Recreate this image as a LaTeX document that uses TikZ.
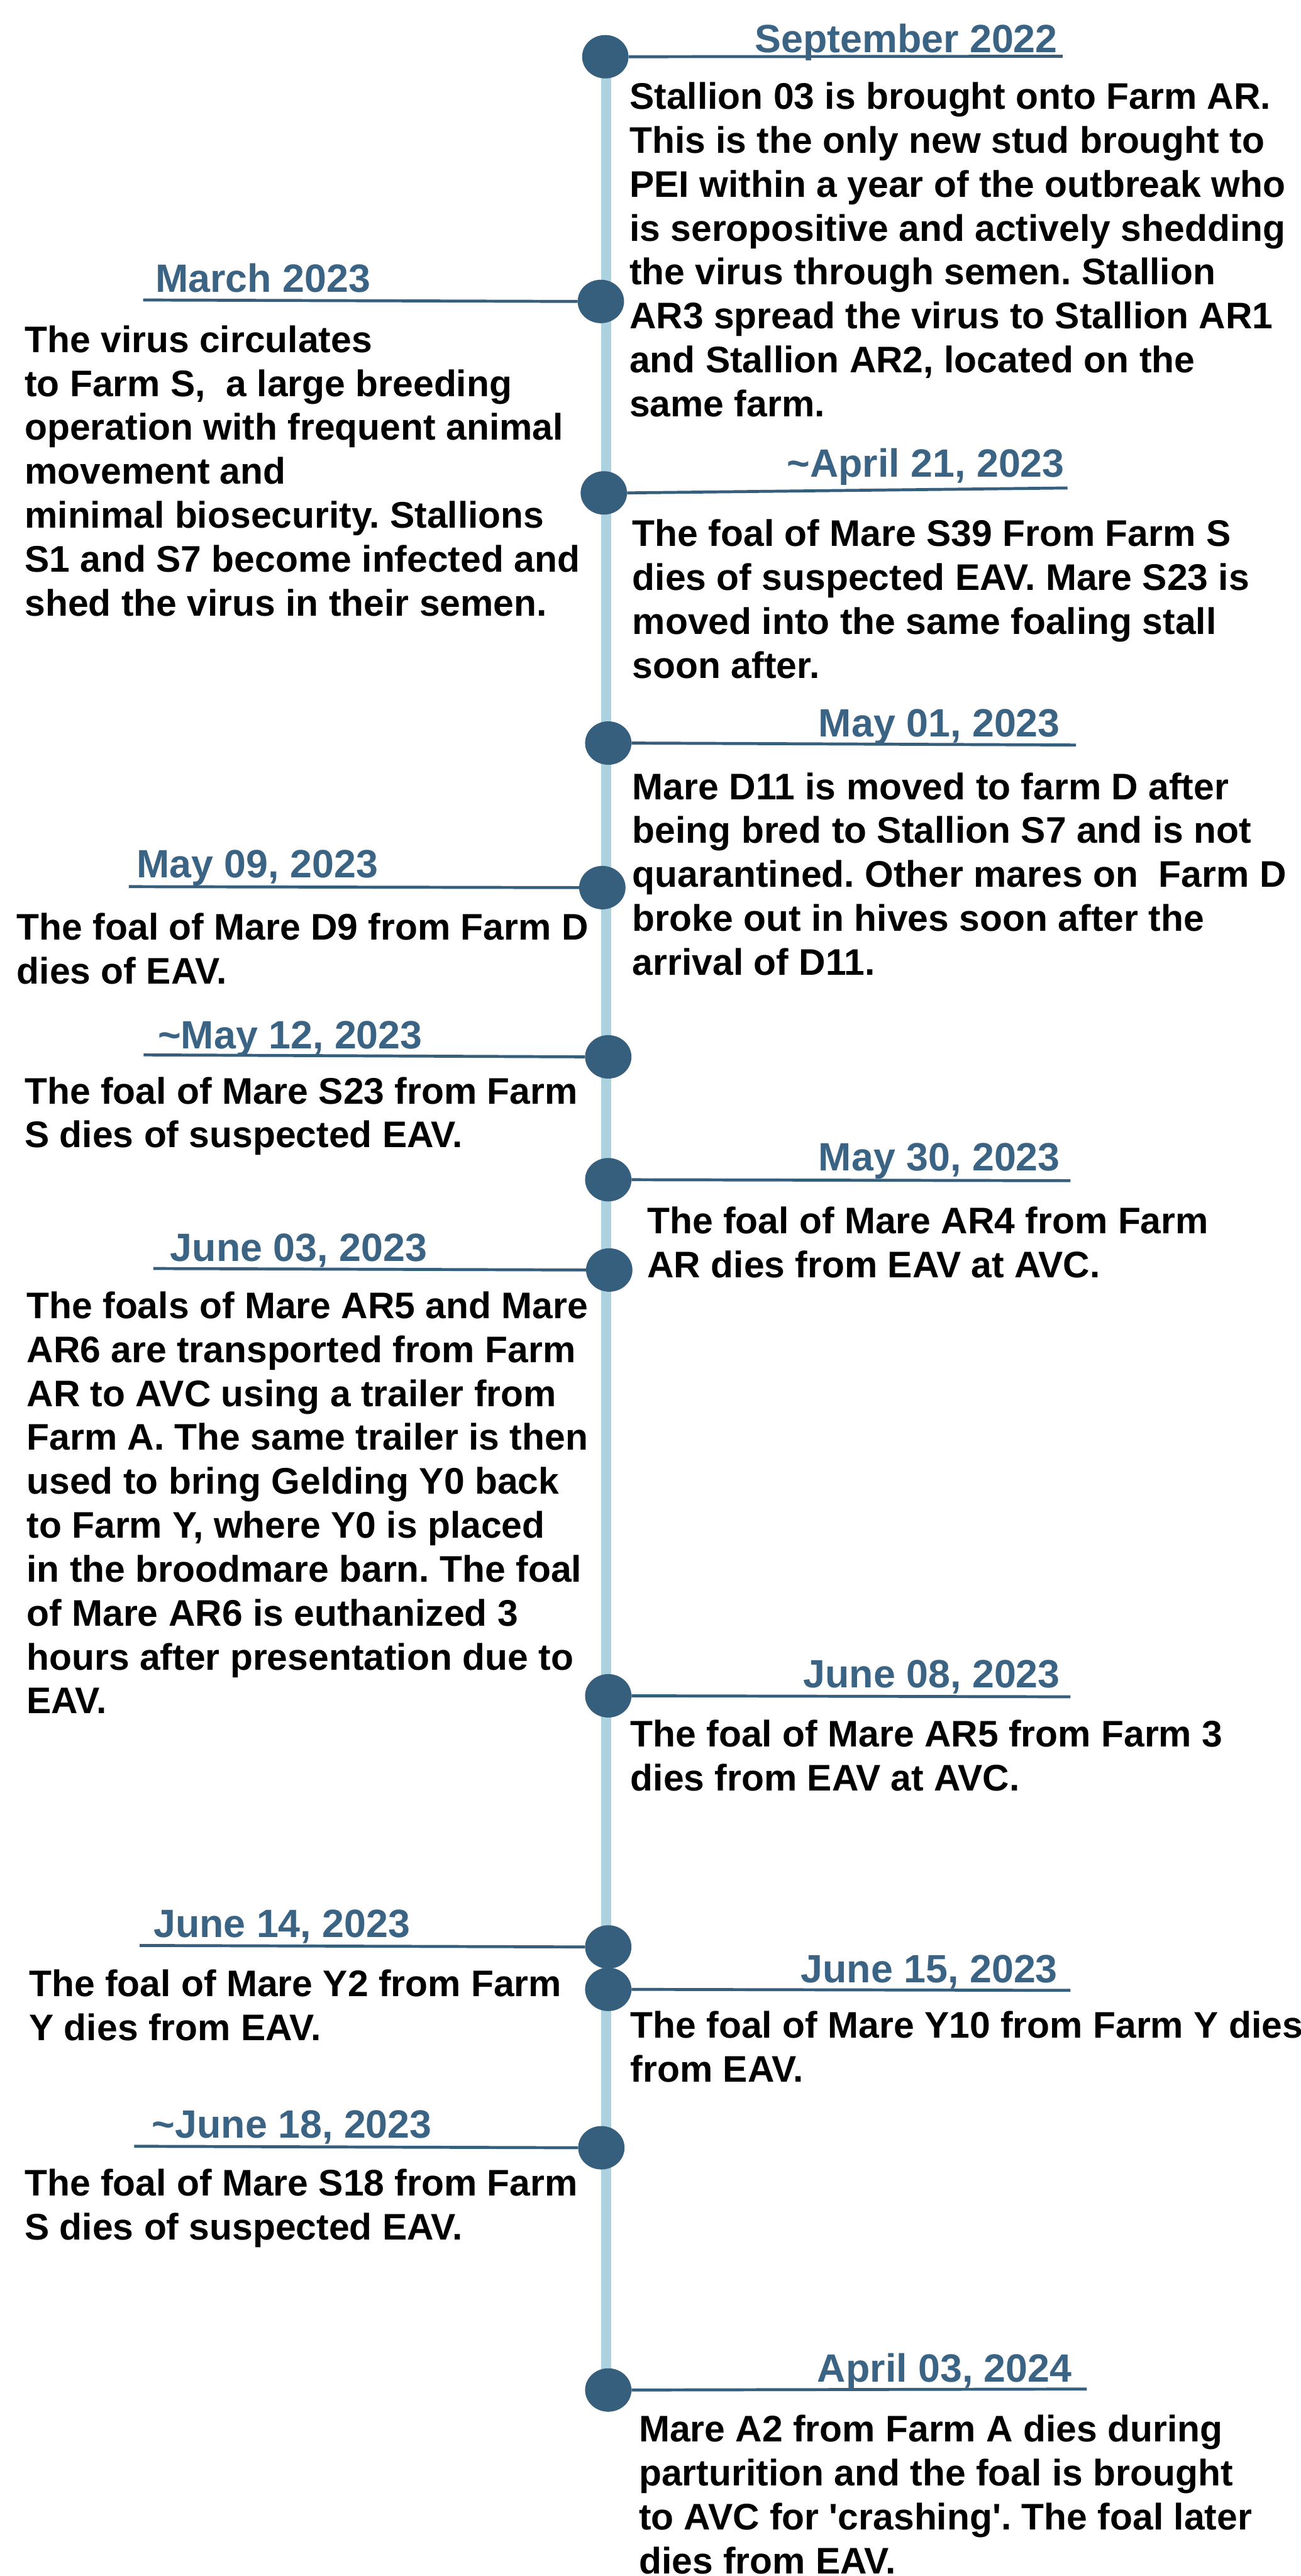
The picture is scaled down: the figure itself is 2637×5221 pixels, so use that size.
\documentclass[tikz,border=0pt]{standalone}
\usepackage{fontspec}
\setmainfont{Liberation Sans}
\definecolor{dotblue}{RGB}{54,95,126}
\definecolor{datecol}{RGB}{58,99,132}
\definecolor{axisblue}{RGB}{172,210,224}
\tikzset{
  x=1pt, y=-1pt,
  dot/.style={ellipse, fill=dotblue, minimum width=94pt, minimum height=88pt, inner sep=0pt},
  tick/.style={draw=dotblue, line width=6pt},
  datelbl/.style={font=\fontsize{80}{90}\selectfont\bfseries, text=datecol, inner sep=0pt},
  body/.style={font=\fontsize{75}{89}\selectfont\bfseries\frenchspacing, text=black, align=left, inner sep=0pt, anchor=north west},
}
\newcommand{\fl}{\rule{0pt}{60pt}}
\usetikzlibrary{shapes.geometric}
\frenchspacing
\begin{document}
\begin{tikzpicture}
\useasboundingbox[fill=white] (0,0) rectangle (2637,5221);
% timeline axis
\coordinate (axtop) at (1229,115);
\coordinate (axbot) at (1229,4844);
\draw[axisblue, line width=20pt] (axtop) -- (axbot);

% ---- 1: September 2022 (right)
\node[dot] (c1) at (1227,115) {};
\coordinate (e1) at (2154,114);
\draw[tick] (c1.east) -- (e1);
\node[datelbl, anchor=base east] (d1) at (2144,106) {September 2022};
\node[body] (t1) at (1276,161) {\fl Stallion 03 is brought onto Farm AR.\\This is the only new stud brought to\\PEI within a year of the outbreak who\\is seropositive and actively shedding\\the virus through semen. Stallion\\AR3 spread the virus to Stallion AR1\\and Stallion AR2, located on the\\same farm.};

% ---- 2: March 2023 (left)
\node[dot] (c2) at (1218,611) {};
\coordinate (e2) at (290,608);
\draw[tick] (e2) -- (c2.west);
\node[datelbl, anchor=base west] (d2) at (315,592) {March 2023};
\node[body] (t2) at (50,654) {\fl The virus circulates\\to Farm S,~ a large breeding\\operation with frequent animal\\movement and\\minimal biosecurity. Stallions\\S1 and S7 become infected and\\shed the virus in their semen.};

% ---- 3: ~April 21, 2023 (right)
\node[dot] (c3) at (1224,999) {};
\coordinate (e3) at (2164,989);
\draw[tick] (c3.east) -- (e3);
\node[datelbl, anchor=base east] (d3) at (2158,967) {\char`\~April 21, 2023};
\node[body] (t3) at (1282,1047) {\fl The foal of Mare S39 From Farm S\\dies of suspected EAV. Mare S23 is\\moved into the same foaling stall\\soon after.};

% ---- 4: May 01, 2023 (right)
\node[dot] (c4) at (1233,1506) {};
\coordinate (e4) at (2181,1510);
\draw[tick] (c4.east) -- (e4);
\node[datelbl, anchor=base east] (d4) at (2149,1493) {May 01, 2023};
\node[body] (t4) at (1282,1560) {\fl Mare D11 is moved to farm D after\\being bred to Stallion S7 and is not\\quarantined. Other mares on~ Farm D\\broke out in hives soon after the\\arrival of D11.};

% ---- 5: May 09, 2023 (left)
\node[dot] (c5) at (1221,1799) {};
\coordinate (e5) at (261,1797);
\draw[tick] (e5) -- (c5.west);
\node[datelbl, anchor=base west] (d5) at (277,1779) {May 09, 2023};
\node[body] (t5) at (34,1845) {\fl The foal of Mare D9 from Farm D\\dies of EAV.};

% ---- 6: ~May 12, 2023 (left)
\node[dot] (c6) at (1233,2142) {};
\coordinate (e6) at (291,2138);
\draw[tick] (e6) -- (c6.west);
\node[datelbl, anchor=base west] (d6) at (320,2125) {\char`\~May 12, 2023};
\node[body] (t6) at (50,2177) {\fl The foal of Mare S23 from Farm\\S dies of suspected EAV.};

% ---- 7: May 30, 2023 (right)
\node[dot] (c7) at (1233,2391) {};
\coordinate (e7) at (2170,2393);
\draw[tick] (c7.east) -- (e7);
\node[datelbl, anchor=base east] (d7) at (2149,2373) {May 30, 2023};
\node[body] (t7) at (1312,2440) {\fl The foal of Mare AR4 from Farm\\AR dies from EAV at AVC.};

% ---- 8: June 03, 2023 (left)
\node[dot] (c8) at (1235,2574) {};
\coordinate (e8) at (311,2571);
\draw[tick] (e8) -- (c8.west);
\node[datelbl, anchor=base west] (d8) at (345,2556) {June 03, 2023};
\node[body] (t8) at (54,2612) {\fl The foals of Mare AR5 and Mare\\AR6 are transported from Farm\\AR to AVC using a trailer from\\Farm A. The same trailer is then\\used to bring Gelding Y0 back\\to Farm Y, where Y0 is placed\\in the broodmare barn. The foal\\of Mare AR6 is euthanized 3\\hours after presentation due to\\EAV.};

% ---- 9: June 08, 2023 (right)
\node[dot] (c9) at (1233,3437) {};
\coordinate (e9) at (2170,3439);
\draw[tick] (c9.east) -- (e9);
\node[datelbl, anchor=base east] (d9) at (2149,3421) {June 08, 2023};
\node[body] (t9) at (1278,3480) {\fl The foal of Mare AR5 from Farm 3\\dies from EAV at AVC.};

% ---- 10: June 14, 2023 (left)
\node[dot] (c10) at (1233,3946) {};
\coordinate (e10) at (283,3943);
\draw[tick] (e10) -- (c10.west);
\node[datelbl, anchor=base west] (d10) at (311,3926) {June 14, 2023};
\node[body] (t10) at (59,3986) {\fl The foal of Mare Y2 from Farm\\Y dies from EAV.};

% ---- 11: June 15, 2023 (right)
\node[dot] (c11) at (1233,4032) {};
\coordinate (e11) at (2170,4034);
\draw[tick] (c11.east) -- (e11);
\node[datelbl, anchor=base east] (d11) at (2144,4018) {June 15, 2023};
\node[body] (t11) at (1278,4070) {\fl The foal of Mare Y10 from Farm Y dies\\from EAV.};

% ---- 12: ~June 18, 2023 (left)
\node[dot] (c12) at (1219,4353) {};
\coordinate (e12) at (272,4350);
\draw[tick] (e12) -- (c12.west);
\node[datelbl, anchor=base west] (d12) at (308,4333) {\char`\~June 18, 2023};
\node[body] (t12) at (50,4390) {\fl The foal of Mare S18 from Farm\\S dies of suspected EAV.};

% ---- 13: April 03, 2024 (right)
\node[dot] (c13) at (1233,4844) {};
\coordinate (e13) at (2203,4842);
\draw[tick] (c13.east) -- (e13);
\node[datelbl, anchor=base east] (d13) at (2173,4828) {April 03, 2024};
\node[body] (t13) at (1295,4889) {\fl Mare A2 from Farm A dies during\\parturition and the foal is brought\\to AVC for \textquotesingle crashing\textquotesingle. The foal later\\dies from EAV.};
\end{tikzpicture}
\end{document}
